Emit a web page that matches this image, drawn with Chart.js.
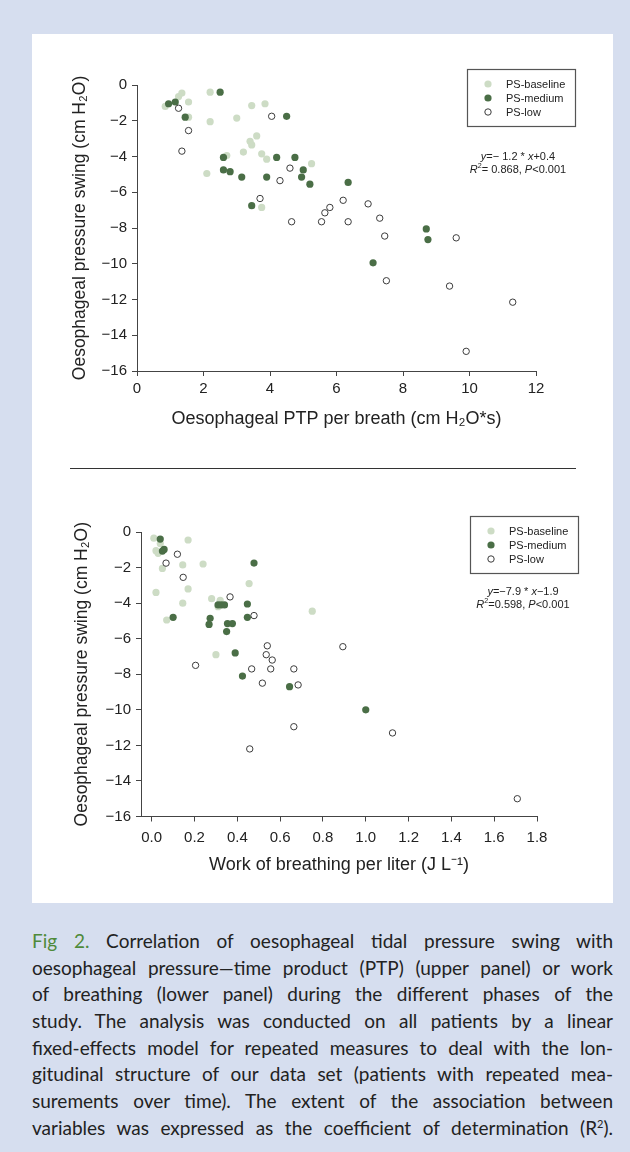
<!DOCTYPE html>
<html>
<head>
<meta charset="utf-8">
<script src="https://cdn.jsdelivr.net/npm/chart.js@4.4.1/dist/chart.umd.min.js"></script>
<style>
  html, body { margin: 0; padding: 0; }
  body { width: 630px; height: 1152px; background: #d6deef; position: relative; overflow: hidden; }
  #panel { position: absolute; left: 32px; top: 34px; width: 581px; height: 869px; background: #fff; }
  .plot { position: absolute; left: 0; width: 630px; }
  #sep { position: absolute; left: 70px; top: 468px; width: 506px; border-top: 1px solid #333; }
  #caption { position: absolute; left: 32px; top: 928px; width: 581px; font-family: Lato, sans-serif;
             font-size: 19px; line-height: 26.67px; color: #222; }
  #caption div { text-align: justify; text-align-last: justify; height: 26.67px; }
  #caption .fig { color: #4f8a3a; }
  #caption sup { font-size: 11px; line-height: 0; vertical-align: 0.6em; }
</style>
</head>
<body>
<div id="panel"></div>
<div class="plot" style="top:0;height:460px"><canvas id="ptp" width="630" height="460"></canvas></div>
<div id="sep"></div>
<div class="plot" style="top:470px;height:430px"><canvas id="wob" width="630" height="430"></canvas></div>
<div id="caption">
  <div><span class="fig">Fig 2.</span> Correlation of oesophageal tidal pressure swing with</div>
  <div>oesophageal pressure—time product (PTP) (upper panel) or work</div>
  <div>of breathing (lower panel) during the different phases of the</div>
  <div>study. The analysis was conducted on all patients by a linear</div>
  <div>fixed-effects model for repeated measures to deal with the lon-</div>
  <div>gitudinal structure of our data set (patients with repeated mea-</div>
  <div>surements over time). The extent of the association between</div>
  <div>variables was expressed as the coefficient of determination (R<sup>2</sup>).</div>
</div>
<script>
// series names (legend order)
const seriesNames = ['PS-baseline', 'PS-medium', 'PS-low'];

// tick labels
const ptpTicksX = [0, 2, 4, 6, 8, 10, 12];
const wobTicksX = [0, 0.2, 0.4, 0.6, 0.8, 1.0, 1.2, 1.4, 1.6, 1.8];
const swingTicksY = [0, -2, -4, -6, -8, -10, -12, -14, -16];
const wobXMin = -0.05;

// upper panel: oesophageal PTP per breath vs pressure swing
const ptpBaselineX = [0.85, 1.25, 1.35, 1.55, 1.55, 2.2, 2.2, 3.0, 3.45, 3.85, 3.6, 3.4, 3.45, 3.2, 2.7, 3.75, 3.9, 2.1, 3.75, 5.25];
const ptpBaselineY = [-1.2, -0.65, -0.45, -0.95, -1.8, -0.4, -2.05, -1.85, -1.15, -1.05, -2.85, -3.15, -3.35, -3.75, -3.95, -3.85, -4.15, -4.95, -6.85, -4.4];
const ptpMediumX = [0.95, 1.15, 1.45, 2.5, 2.6, 2.6, 2.8, 3.15, 3.45, 3.9, 4.2, 4.5, 4.75, 5.0, 4.95, 5.2, 6.35, 8.7, 8.75, 7.1];
const ptpMediumY = [-1.05, -0.95, -1.8, -0.4, -4.05, -4.75, -4.85, -5.15, -6.75, -5.15, -4.05, -1.75, -4.05, -4.75, -5.15, -5.55, -5.45, -8.05, -8.65, -9.95];
const ptpLowX = [1.25, 1.55, 1.35, 4.05, 4.6, 4.3, 3.7, 4.65, 5.55, 5.65, 5.8, 6.2, 6.35, 6.95, 7.3, 7.45, 9.6, 7.5, 9.4, 11.3, 9.9];
const ptpLowY = [-1.3, -2.55, -3.7, -1.75, -4.65, -5.35, -6.35, -7.65, -7.65, -7.15, -6.85, -6.45, -7.65, -6.65, -7.45, -8.45, -8.55, -10.95, -11.25, -12.15, -14.9];

// lower panel: work of breathing per liter vs pressure swing
const wobBaselineX = [0.01, 0.04, 0.02, 0.03, 0.05, 0.02, 0.07, 0.17, 0.145, 0.24, 0.17, 0.145, 0.28, 0.32, 0.31, 0.455, 0.30, 0.75];
const wobBaselineY = [-0.35, -0.65, -1.05, -1.2, -2.05, -3.4, -4.95, -0.45, -1.85, -1.8, -3.2, -4.0, -3.75, -3.85, -4.2, -2.9, -6.9, -4.45];
const wobMediumX = [0.04, 0.058, 0.05, 0.1, 0.478, 0.31, 0.325, 0.34, 0.447, 0.273, 0.268, 0.354, 0.377, 0.35, 0.447, 0.39, 0.424, 0.644, 1.0];
const wobMediumY = [-0.4, -0.98, -1.07, -4.8, -1.75, -4.1, -4.1, -4.1, -4.05, -4.85, -5.2, -5.15, -5.15, -5.6, -4.8, -6.8, -8.1, -8.7, -10.0];
const wobLowX = [0.067, 0.12, 0.147, 0.366, 0.478, 0.205, 0.467, 0.54, 0.535, 0.563, 0.556, 0.517, 0.664, 0.684, 0.664, 0.458, 0.893, 1.125, 1.708];
const wobLowY = [-1.75, -1.25, -2.55, -3.65, -4.7, -7.5, -7.7, -6.4, -6.9, -7.2, -7.7, -8.5, -7.7, -8.6, -10.95, -12.2, -6.45, -11.3, -15.0];

const pts = (xs, ys) => xs.map((x, i) => ({ x: x, y: ys[i] }));
const minus = v => (v < 0 ? '\u2212' + Math.abs(v) : String(v));

Chart.defaults.font.family = '"Liberation Sans", Arial, sans-serif';
Chart.defaults.color = '#222';

const LIGHT = '#cddcc5';
const DARK = '#4a6e46';
const EDGE = '#3c3c3c';

function makeDatasets(bx, by, mx, my, lx, ly) {
  const base = { pointRadius: 3.6, pointHoverRadius: 3.6, showLine: false };
  return [
    Object.assign({}, base, { label: seriesNames[0], data: pts(bx, by), order: 3,
      pointBackgroundColor: LIGHT, pointBorderColor: LIGHT, pointBorderWidth: 0 }),
    Object.assign({}, base, { label: seriesNames[1], data: pts(mx, my), order: 2,
      pointBackgroundColor: DARK, pointBorderColor: DARK, pointBorderWidth: 0 }),
    Object.assign({}, base, { label: seriesNames[2], data: pts(lx, ly), order: 1, pointRadius: 3.2,
      pointBackgroundColor: '#fff', pointBorderColor: EDGE, pointBorderWidth: 1 })
  ];
}

// draw a line of text made of parts: [text, 'i' italic | 's' superscript | '' plain]
function richText(ctx, parts, cx, y, size) {
  const fam = Chart.defaults.font.family;
  const fontFor = s => (s === 'i' ? 'italic ' + size + 'px ' : s === 's' ? (size * 0.65) + 'px ' : size + 'px ') + fam;
  let total = 0;
  parts.forEach(p => { ctx.font = fontFor(p[1]); total += ctx.measureText(p[0]).width; });
  let x = cx - total / 2;
  ctx.textBaseline = 'middle';
  ctx.textAlign = 'left';
  parts.forEach(p => {
    ctx.font = fontFor(p[1]);
    ctx.fillText(p[0], x, p[1] === 's' ? y - size * 0.35 : y);
    x += ctx.measureText(p[0]).width;
  });
}

const panelExtras = {
  id: 'panelExtras',
  afterDatasetsDraw(chart, args, opts) {
    const ctx = chart.ctx;
    const b = opts.box;
    ctx.save();
    ctx.fillStyle = '#fff';
    ctx.fillRect(b.left, b.top, b.width, b.height);
    ctx.strokeStyle = '#555';
    ctx.lineWidth = 1.2;
    ctx.strokeRect(b.left + 0.5, b.top + 0.5, b.width, b.height);
    chart.data.datasets.forEach((ds, i) => {
      const y = b.top + 15 + i * 14;
      ctx.beginPath();
      ctx.arc(b.left + 21, y, ds.pointRadius, 0, Math.PI * 2);
      ctx.fillStyle = ds.pointBackgroundColor;
      ctx.fill();
      if (ds.pointBorderWidth) {
        ctx.lineWidth = ds.pointBorderWidth;
        ctx.strokeStyle = ds.pointBorderColor;
        ctx.stroke();
      }
      ctx.fillStyle = '#222';
      ctx.font = '11px ' + Chart.defaults.font.family;
      ctx.textAlign = 'left';
      ctx.textBaseline = 'middle';
      ctx.fillText(ds.label, b.left + 39, y + 0.5);
    });
    ctx.fillStyle = '#222';
    opts.eq.forEach((line, i) => richText(ctx, line, opts.eqX, opts.eqY + i * 12.8, 11));
    ctx.restore();
  }
};

function makeOptions(cfg) {
  const tickFont = { size: 15 };
  return {
    responsive: false,
    animation: false,
    events: [],
    layout: { padding: cfg.padding },
    plugins: { legend: { display: false }, tooltip: { enabled: false }, panelExtras: cfg.extras },
    scales: {
      x: {
        type: 'linear', min: cfg.xMin, max: cfg.xMax,
        afterBuildTicks: s => { s.ticks = cfg.xTicks.map(v => ({ value: v })); },
        afterFit: s => { s.height = cfg.xHeight; },
        ticks: { font: tickFont, padding: cfg.xPad, maxRotation: 0, callback: cfg.xFmt },
        grid: { drawOnChartArea: false, drawTicks: true, tickLength: 5, color: '#444' },
        border: { color: '#444', width: 1 },
        title: { display: true, text: cfg.xTitle, font: { size: 18 }, padding: 0, color: '#222' }
      },
      y: {
        type: 'linear', min: -16, max: 0,
        afterBuildTicks: s => { s.ticks = swingTicksY.map(v => ({ value: v })); },
        afterFit: s => { s.width = cfg.yWidth; },
        ticks: { font: tickFont, padding: 5, callback: v => minus(v) },
        grid: { drawOnChartArea: false, drawTicks: true, tickLength: 5, color: '#444' },
        border: { color: '#444', width: 1 },
        title: { display: true, text: 'Oesophageal pressure swing (cm H\u2082O)', font: { size: 17.5 }, padding: 0, color: '#222' }
      }
    }
  };
}

new Chart(document.getElementById('ptp'), {
  type: 'scatter',
  data: { datasets: makeDatasets(ptpBaselineX, ptpBaselineY, ptpMediumX, ptpMediumY, ptpLowX, ptpLowY) },
  options: makeOptions({
    padding: { left: 70, top: 85, right: 94, bottom: 30 },
    xMin: 0, xMax: 12, xTicks: ptpTicksX, xHeight: 59, xPad: 4,
    xFmt: v => String(v), yWidth: 67,
    xTitle: 'Oesophageal PTP per breath (cm H\u2082O*s)',
    extras: {
      box: { left: 467, top: 69, width: 108, height: 57 },
      eqX: 518, eqY: 157,
      eq: [
        [['y', 'i'], ['=\u2212 1.2 * ', ''], ['x', 'i'], ['+0.4', '']],
        [['R', 'i'], ['2', 's'], ['= 0.868, ', ''], ['P', 'i'], ['<0.001', '']]
      ]
    }
  }),
  plugins: [panelExtras]
});

new Chart(document.getElementById('wob'), {
  type: 'scatter',
  data: { datasets: makeDatasets(wobBaselineX, wobBaselineY, wobMediumX, wobMediumY, wobLowX, wobLowY) },
  options: makeOptions({
    padding: { left: 72, top: 62, right: 93, bottom: 24 },
    xMin: wobXMin, xMax: 1.8, xTicks: wobTicksX, xHeight: 59.5, xPad: 7,
    xFmt: v => v.toFixed(1), yWidth: 69,
    xTitle: 'Work of breathing per liter (J L\u207B\u00B9)',
    extras: {
      box: { left: 470, top: 46, width: 108, height: 57 },
      eqX: 523, eqY: 122,
      eq: [
        [['y', 'i'], ['=\u22127.9 * ', ''], ['x', 'i'], ['\u22121.9', '']],
        [['R', 'i'], ['2', 's'], ['=0.598, ', ''], ['P', 'i'], ['<0.001', '']]
      ]
    }
  }),
  plugins: [panelExtras]
});
</script>
</body>
</html>
